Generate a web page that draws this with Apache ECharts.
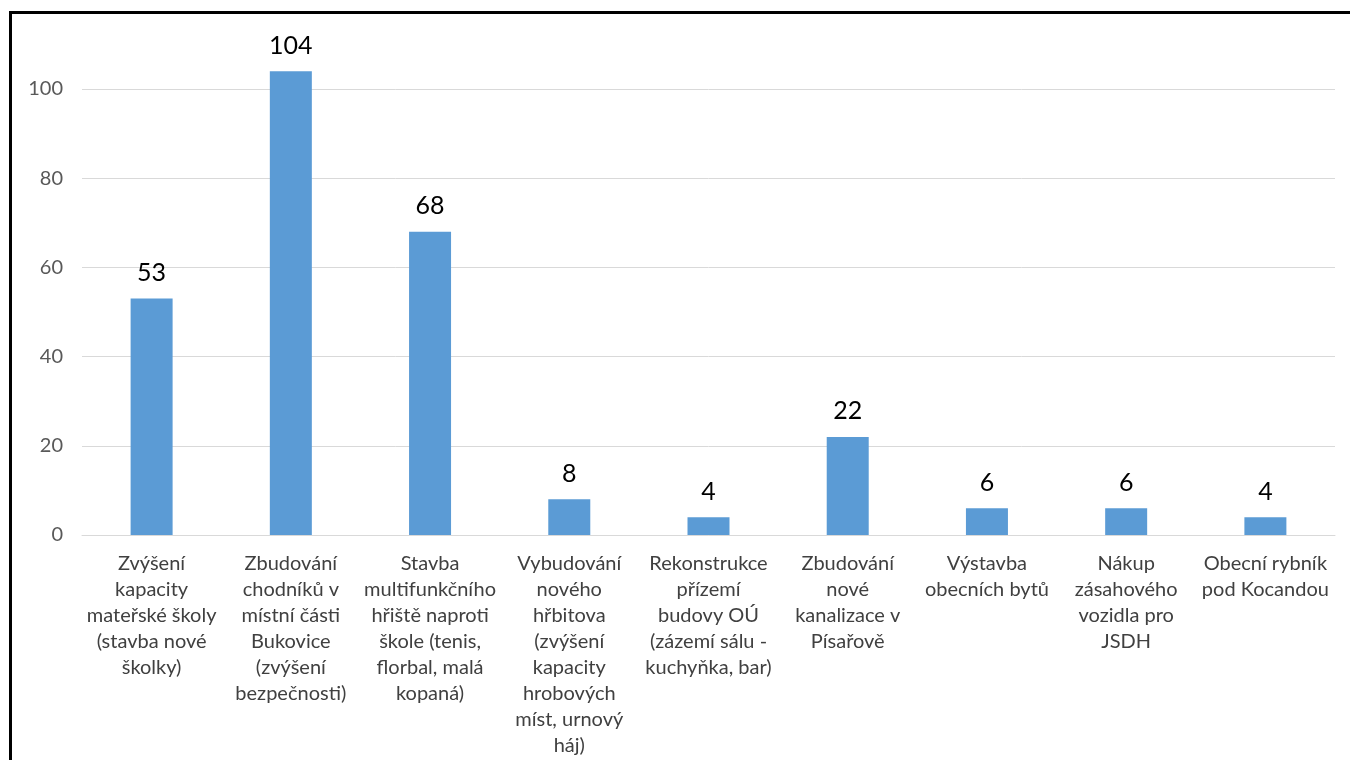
<!DOCTYPE html>
<html><head><meta charset="utf-8">
<script src="https://cdn.jsdelivr.net/npm/echarts@6/dist/echarts.min.js"></script>
<style>
html,body{margin:0;padding:0;background:#fff;}
#frame{position:absolute;left:9px;top:11px;width:1400px;height:800px;border-top:3px solid #000;border-left:3px solid #000;box-sizing:border-box;}
#c{position:absolute;left:0;top:0;width:1350px;height:760px;}
</style></head>
<body>
<div id="frame"></div>
<div id="c"></div>
<script>
const categories = [
  "Zvýšení\nkapacity\nmateřské školy\n(stavba nové\nškolky)",
  "Zbudování\nchodníků v\nmístní části\nBukovice\n(zvýšení\nbezpečnosti)",
  "Stavba\nmultifunkčního\nhřiště naproti\nškole (tenis,\nflorbal, malá\nkopaná)",
  "Vybudování\nnového\nhřbitova\n(zvýšení\nkapacity\nhrobových\nmíst, urnový\nháj)",
  "Rekonstrukce\npřízemí\nbudovy OÚ\n(zázemí sálu -\nkuchyňka, bar)",
  "Zbudování\nnové\nkanalizace v\nPísařově",
  "Výstavba\nobecních bytů",
  "Nákup\nzásahového\nvozidla pro\nJSDH",
  "Obecní rybník\npod Kocandou"
];
const values = [53, 104, 68, 8, 4, 22, 6, 6, 4];
const yTicks = [0, 20, 40, 60, 80, 100];

const chart = echarts.init(document.getElementById('c'), null, {renderer:'canvas'});
chart.setOption({
  animation:false,
  backgroundColor:'transparent',
  grid:{left:82, right:15, top:89, bottom:225, containLabel:false},
  xAxis:{
    type:'category', data:categories,
    axisLine:{lineStyle:{color:'#d9d9d9', width:1}},
    axisTick:{show:false},
    axisLabel:{interval:0, color:'#404040', fontFamily:'Lato', fontSize:20, lineHeight:26, margin:16}
  },
  yAxis:{
    type:'value', min:0, max:yTicks[yTicks.length-1], interval:20,
    axisLine:{show:false}, axisTick:{show:false},
    splitLine:{lineStyle:{color:'#d9d9d9', width:1}},
    axisLabel:{color:'#595959', fontFamily:'Lato', fontSize:20, margin:19}
  },
  series:[{
    type:'bar', data:values, barWidth:42, clip:false,
    itemStyle:{color:'#5b9bd5'},
    label:{show:true, position:'top', distance:13, color:'#000', fontFamily:'Lato', fontSize:25}
  }]
});
</script>
</body></html>
